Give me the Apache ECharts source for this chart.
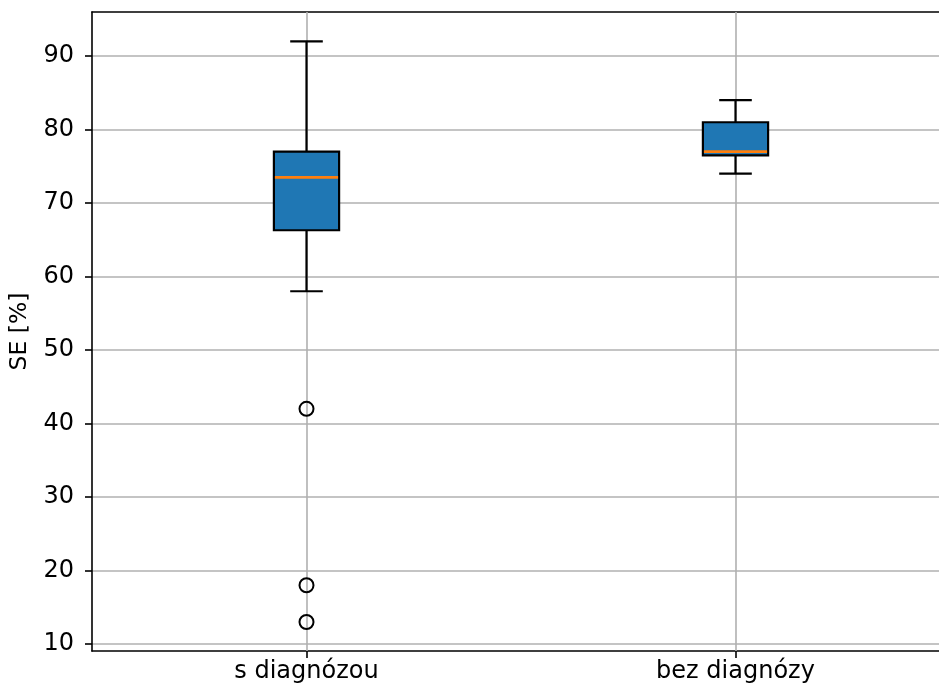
<!DOCTYPE html>
<html>
<head>
<meta charset="utf-8">
<script src="https://cdn.jsdelivr.net/npm/echarts@6/dist/echarts.min.js"></script>
<style>
  html, body { margin: 0; padding: 0; background: #fff; }
  #main { width: 939px; height: 694px; }
</style>
</head>
<body>
<div id="main"></div>
<script>
// kategorie a statistiky krabic
const categories = ['s diagnózou', 'bez diagnózy'];
const whiskerLow = [58, 74];
const q1 = [66.3, 76.5];
const median = [73.5, 77];
const q3 = [77, 81];
const whiskerHigh = [92, 84];
// odlehlé hodnoty [kategorie, hodnota]
const outliers = [[0, 42], [0, 18], [0, 13]];
const yTicks = [10, 20, 30, 40, 50, 60, 70, 80, 90];

const font = 'DejaVu Sans';
var myChart = echarts.init(document.getElementById('main'));

const boxData = categories.map((c, i) => [i, whiskerLow[i], q1[i], median[i], q3[i], whiskerHigh[i]]);

function renderBox(params, api) {
  const x = api.value(0);
  const pLow = api.coord([x, api.value(1)]);
  const pQ1 = api.coord([x, api.value(2)]);
  const pMed = api.coord([x, api.value(3)]);
  const pQ3 = api.coord([x, api.value(4)]);
  const pHigh = api.coord([x, api.value(5)]);
  const band = api.size([1, 0])[0];
  const w = band * 0.152;
  const cap = w / 2;
  const cx = pMed[0];
  const black = { stroke: '#000', lineWidth: 2.2 };
  return {
    type: 'group',
    children: [
      { type: 'line', shape: { x1: cx, y1: pQ1[1], x2: cx, y2: pLow[1] }, style: black },
      { type: 'line', shape: { x1: cx, y1: pQ3[1], x2: cx, y2: pHigh[1] }, style: black },
      { type: 'line', shape: { x1: cx - cap / 2, y1: pLow[1], x2: cx + cap / 2, y2: pLow[1] }, style: black },
      { type: 'line', shape: { x1: cx - cap / 2, y1: pHigh[1], x2: cx + cap / 2, y2: pHigh[1] }, style: black },
      { type: 'rect', shape: { x: cx - w / 2, y: pQ3[1], width: w, height: pQ1[1] - pQ3[1] },
        style: { fill: '#1f77b4', stroke: '#000', lineWidth: 2.2 } },
      { type: 'line', shape: { x1: cx - w / 2 + 1, y1: pMed[1], x2: cx + w / 2 - 1, y2: pMed[1] },
        style: { stroke: '#ff7f0e', lineWidth: 2.8 } }
    ]
  };
}

var option = {
  animation: false,
  backgroundColor: '#fff',
  grid: { left: 92, right: -11, top: 12, bottom: 43, outerBoundsMode: 'none', containLabel: false },
  xAxis: [
    {
      type: 'category',
      data: categories,
      boundaryGap: true,
      axisLine: { show: true, lineStyle: { color: '#000', width: 1.6 } },
      axisTick: { show: true, alignWithLabel: true, length: 7, lineStyle: { color: '#000', width: 1.6 } },
      axisLabel: { color: '#000', fontFamily: font, fontSize: 24, margin: 9 },
      splitLine: { show: false }
    },
    {
      type: 'category',
      data: categories,
      position: 'top',
      axisLine: { show: true, lineStyle: { color: '#000', width: 1.6 } },
      axisTick: { show: false },
      axisLabel: { show: false }
    }
  ],
  yAxis: {
    type: 'value',
    min: 9.05,
    max: 96,
    name: 'SE [%]',
    nameLocation: 'middle',
    nameGap: 60,
    nameTextStyle: { color: '#000', fontFamily: font, fontSize: 23.5 },
    axisLine: { show: true, lineStyle: { color: '#000', width: 1.6 } },
    axisTick: { show: true, customValues: yTicks, length: 7, lineStyle: { color: '#000', width: 1.6 } },
    axisLabel: { customValues: yTicks, color: '#000', fontFamily: font, fontSize: 24, margin: 18 },
    splitLine: { show: true, lineStyle: { color: '#b0b0b0', width: 1.6 } }
  },
  series: [
    {
      type: 'line',
      data: [],
      z: 1,
      markLine: {
        silent: true,
        symbol: 'none',
        label: { show: false },
        lineStyle: { color: '#b0b0b0', width: 1.6, type: 'solid' },
        data: categories.map(c => ({ xAxis: c }))
      }
    },
    {
      type: 'custom',
      zlevel: 1,
      z: 3,
      renderItem: renderBox,
      data: boxData
    },
    {
      type: 'scatter',
      zlevel: 1,
      z: 4,
      symbol: 'circle',
      symbolSize: 14,
      itemStyle: { color: 'rgba(0,0,0,0)', borderColor: '#000', borderWidth: 2, opacity: 1 },
      data: outliers
    }
  ]
};
myChart.setOption(option);
</script>
</body>
</html>
